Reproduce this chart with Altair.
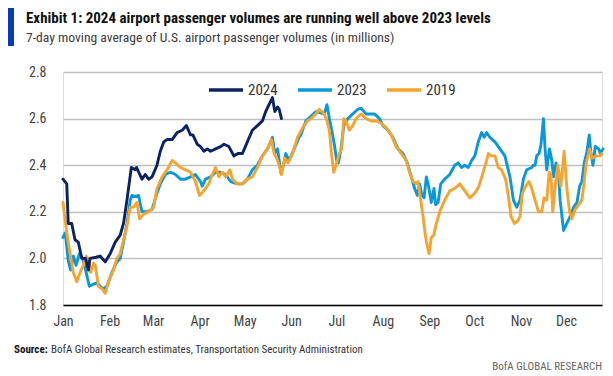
import altair as alt
import pandas as pd

# ---------------- data (day of year, value in millions) ----------------
days_2024 = [0, 2.5, 3.5, 5.8, 8.0, 10.2, 12.5, 15.0, 16.9, 18.0, 22.0, 24.7, 28.1, 31.4, 34.8,
             38.1, 40.3, 42.6, 45.5, 48.1, 49.0, 52.6, 54.8, 57.0, 59.3, 62.6, 64.8, 67.1, 69.3,
             72.7, 76.0, 79.4, 82.2, 84.9, 86.5, 89.4, 91.6, 93.8, 96.1, 98.3, 101.6, 105.0,
             107.2, 110.5, 113.8, 116.5, 119.5, 122.8, 126.1, 129.5, 132.8, 135.0, 137.2, 139.5,
             141.1, 142.9, 144.0, 145.5]
vals_2024 = [2.34, 2.32, 2.15, 2.15, 2.08, 2.07, 2.00, 2.00, 1.95, 2.00, 2.005, 2.01, 1.985, 2.02,
             2.07, 2.10, 2.15, 2.25, 2.39, 2.38, 2.39, 2.34, 2.36, 2.34, 2.35, 2.40, 2.46, 2.50,
             2.51, 2.51, 2.54, 2.55, 2.57, 2.53, 2.53, 2.49, 2.48, 2.46, 2.47, 2.46, 2.47, 2.48,
             2.49, 2.48, 2.44, 2.45, 2.45, 2.50, 2.55, 2.57, 2.59, 2.63, 2.66, 2.69, 2.63, 2.65,
             2.64, 2.60]

days_2023 = [0, 1.5, 3.5, 5.1, 6.9, 8.7, 10.9, 13.2, 15.4, 17.6, 20.3, 22.5, 24.7, 26.9, 29.2,
             32.6, 35.4, 38.1, 40.3, 42.6, 44.8, 45.9, 48.1, 50.3, 52.6, 56.0, 59.3, 62.6, 64.8,
             68.2, 71.5, 74.9, 78.2, 81.6, 84.9, 88.2, 91.6, 92.7, 94.9, 98.3, 101.6, 105.0,
             108.3, 111.6, 116.1, 119.5, 122.8, 126.1, 129.5, 132.8, 136.2, 139.5, 141.1, 142.9,
             145.1, 146.9, 148.4, 150.6, 154.0, 157.3, 158.4, 160.6, 161.8, 165.1, 168.5, 171.5,
             174.0, 175.8, 177.4, 179.0, 180.7, 182.3, 183.4, 185.2, 187.0, 189.7, 193.0, 196.3,
             198.5, 201.9, 205.2, 207.4, 210.8, 213.1, 216.4, 219.7, 223.1, 226.4, 229.3, 232.0,
             234.2, 236.0, 237.5, 239.1, 240.5, 242.0, 243.5, 245.3, 247.1, 248.2, 249.8, 251.6,
             254.2, 257.6, 260.9, 263.2, 265.4, 267.6, 269.9, 272.1, 274.3, 276.6, 278.8, 280.6,
             282.1, 284.3, 287.7, 291.0, 294.3, 297.7, 300.0, 302.2, 304.4, 306.6, 308.8, 312.2,
             313.3, 314.4, 315.5, 317.1, 318.4, 320.0, 321.1, 322.2, 324.0, 325.6, 326.7, 328.4,
             330.0, 331.1, 333.4, 335.6, 337.8, 340.1, 342.3, 344.1, 345.6, 347.2, 349.0, 350.5,
             351.5, 353.0, 354.5, 356.8, 357.9, 359.7]
vals_2023 = [2.09, 2.11, 1.99, 1.95, 2.01, 1.97, 2.02, 2.00, 1.94, 1.88, 1.89, 1.895, 1.88, 1.87,
             1.88, 1.94, 1.98, 2.00, 2.07, 2.15, 2.25, 2.27, 2.265, 2.27, 2.20, 2.20, 2.21, 2.28,
             2.32, 2.36, 2.37, 2.36, 2.34, 2.34, 2.35, 2.36, 2.33, 2.31, 2.34, 2.35, 2.37, 2.37,
             2.36, 2.33, 2.32, 2.32, 2.34, 2.38, 2.40, 2.44, 2.47, 2.52, 2.45, 2.47, 2.37, 2.40,
             2.45, 2.42, 2.47, 2.52, 2.53, 2.57, 2.59, 2.61, 2.63, 2.625, 2.62, 2.66, 2.60, 2.55,
             2.49, 2.42, 2.41, 2.47, 2.57, 2.60, 2.62, 2.64, 2.645, 2.62, 2.62, 2.62, 2.60, 2.57,
             2.55, 2.52, 2.47, 2.45, 2.41, 2.35, 2.30, 2.27, 2.32, 2.27, 2.26, 2.35, 2.31, 2.24,
             2.30, 2.23, 2.24, 2.32, 2.34, 2.36, 2.40, 2.41, 2.39, 2.40, 2.39, 2.42, 2.44, 2.50,
             2.54, 2.52, 2.54, 2.52, 2.50, 2.47, 2.44, 2.35, 2.25, 2.22, 2.25, 2.34, 2.38, 2.39,
             2.40, 2.40, 2.44, 2.45, 2.49, 2.60, 2.47, 2.38, 2.47, 2.42, 2.35, 2.41, 2.37, 2.25,
             2.12, 2.15, 2.18, 2.22, 2.24, 2.31, 2.33, 2.41, 2.46, 2.53, 2.46, 2.40, 2.48, 2.47,
             2.45, 2.47]

days_2019 = [0, 2.5, 4.7, 6.9, 9.2, 11.4, 13.6, 15.4, 16.5, 18.5, 20.3, 21.5, 23.6, 25.9, 28.1,
             30.3, 33.6, 35.9, 38.1, 40.3, 42.6, 44.8, 47.0, 49.3, 51.0, 53.7, 57.0, 60.4, 62.6,
             66.0, 69.3, 72.7, 74.9, 78.2, 81.6, 84.9, 88.2, 90.9, 93.8, 97.1, 99.4, 101.6, 103.8,
             106.1, 108.3, 111.2, 112.8, 116.1, 119.5, 122.8, 126.1, 129.5, 132.8, 136.2, 138.8,
             140.6, 142.4, 143.9, 145.5, 147.7, 149.9, 152.9, 156.2, 159.6, 162.9, 165.1, 168.5,
             170.7, 174.0, 175.8, 177.4, 179.0, 180.3, 181.8, 184.0, 185.6, 187.0, 188.5, 190.7,
             193.0, 195.2, 198.5, 201.9, 205.2, 208.6, 211.9, 215.3, 218.6, 221.9, 225.3, 228.6,
             230.8, 233.1, 235.3, 236.5, 238.0, 239.8, 241.3, 242.7, 243.8, 245.3, 246.9, 248.7,
             250.9, 254.2, 257.6, 260.9, 264.3, 267.6, 270.9, 274.3, 277.0, 279.9, 282.1, 283.3,
             285.4, 287.7, 289.9, 292.1, 294.8, 296.6, 298.4, 300.6, 302.8, 304.4, 306.0, 308.2,
             310.4, 312.2, 314.4, 316.7, 318.9, 320.4, 322.2, 323.8, 325.0, 326.2, 327.8, 329.6,
             331.6, 333.8, 335.6, 337.4, 338.9, 341.1, 343.4, 345.6, 347.0, 348.5, 350.8, 352.3,
             355.6, 357.5, 359.0]
vals_2019 = [2.24, 2.11, 2.02, 1.94, 1.90, 1.94, 1.97, 2.01, 2.00, 1.94, 1.98, 1.97, 1.88, 1.87,
             1.85, 1.90, 1.95, 2.00, 2.02, 2.08, 2.14, 2.22, 2.22, 2.24, 2.17, 2.19, 2.20, 2.22,
             2.30, 2.35, 2.38, 2.42, 2.41, 2.39, 2.38, 2.37, 2.33, 2.27, 2.29, 2.32, 2.36, 2.39,
             2.35, 2.37, 2.35, 2.38, 2.34, 2.32, 2.32, 2.34, 2.35, 2.39, 2.44, 2.47, 2.51, 2.45,
             2.43, 2.40, 2.36, 2.43, 2.41, 2.45, 2.52, 2.56, 2.59, 2.60, 2.62, 2.64, 2.62, 2.59,
             2.55, 2.44, 2.37, 2.40, 2.45, 2.47, 2.60, 2.59, 2.55, 2.57, 2.60, 2.62, 2.60, 2.59,
             2.59, 2.58, 2.56, 2.53, 2.48, 2.45, 2.42, 2.37, 2.33, 2.32, 2.33, 2.26, 2.18, 2.10,
             2.05, 2.02, 2.09, 2.10, 2.15, 2.20, 2.25, 2.29, 2.30, 2.32, 2.29, 2.26, 2.28, 2.31,
             2.37, 2.42, 2.45, 2.44, 2.44, 2.39, 2.38, 2.34, 2.27, 2.18, 2.15, 2.16, 2.18, 2.28,
             2.31, 2.33, 2.30, 2.25, 2.20, 2.20, 2.26, 2.25, 2.37, 2.36, 2.20, 2.31, 2.40, 2.31,
             2.46, 2.30, 2.20, 2.17, 2.21, 2.23, 2.25, 2.32, 2.41, 2.47, 2.43, 2.44, 2.44, 2.45]

series_names = ["2024", "2023", "2019"]
series_colors = ["#0b2265", "#0b98d8", "#f6a430"]
month_names = ["Jan", "Feb", "Mar", "Apr", "May", "Jun", "Jul", "Aug", "Sep", "Oct", "Nov", "Dec"]
month_starts = [0, 31, 60, 91, 121, 152, 182, 213, 244, 274, 305, 335]
y_ticks = [1.8, 2.0, 2.2, 2.4, 2.6, 2.8]

title_text = "Exhibit 1: 2024 airport passenger volumes are running well above 2023 levels"
subtitle_text = "7-day moving average of U.S. airport passenger volumes (in millions)"
source_bold = "Source:"
source_text = "BofA Global Research estimates, Transportation Security Administration"
brand_text = "BofA GLOBAL RESEARCH"

# ---------------- build ----------------
df = pd.concat([
    pd.DataFrame({"day": days_2024, "value": vals_2024, "series": "2024"}),
    pd.DataFrame({"day": days_2023, "value": vals_2023, "series": "2023"}),
    pd.DataFrame({"day": days_2019, "value": vals_2019, "series": "2019"}),
])

FONT = "Liberation Sans Narrow, Roboto Condensed, Arial Narrow, Liberation Sans, sans-serif"

label_expr = ("[" + ",".join(f"'{m}'" for m in month_names) + "][indexof(["
              + ",".join(str(s) for s in month_starts) + "], datum.value)]")

x_enc = alt.X("day:Q", scale=alt.Scale(domain=[0, 359], nice=False, zero=False),
              axis=alt.Axis(values=month_starts, labelExpr=label_expr, grid=False, ticks=False,
                            domain=True, domainColor="#000000", domainWidth=1.6,
                            labelPadding=9, labelFontSize=14, labelColor="#444444",
                            labelFont=FONT, labelFlush=False, title=None))
y_enc = alt.Y("value:Q", scale=alt.Scale(domain=[1.8, 2.8], nice=False, zero=False),
              axis=alt.Axis(values=y_ticks, format=".1f", grid=True, gridColor="#c0c0c0",
                            gridWidth=1.5, domain=False, ticks=False, labelPadding=17,
                            labelFontSize=14, labelColor="#444444", labelFont=FONT, title=None))
color_enc = alt.Color("series:N",
                      scale=alt.Scale(domain=series_names, range=series_colors),
                      legend=alt.Legend(orient="none", legendX=144, legendY=-1,
                                        direction="horizontal", symbolType="stroke",
                                        symbolSize=1156, symbolStrokeWidth=3.5,
                                        labelFontSize=15, labelFont=FONT, labelColor="#333333",
                                        labelOffset=3, columnPadding=13, title=None))

base = alt.Chart(df)
lines = []
for name in ["2023", "2019", "2024"]:
    lines.append(base.transform_filter(alt.datum.series == name)
                 .mark_line(strokeWidth=2.9, strokeJoin="round", strokeCap="round")
                 .encode(x=x_enc, y=y_enc, color=color_enc))

def text_layer(txt, x, y, size, weight="normal", color="#222222", align="left"):
    return alt.Chart(pd.DataFrame({"t": [txt]})).mark_text(
        align=align, baseline="alphabetic", fontSize=size, fontWeight=weight,
        font=FONT, color=color).encode(text="t:N", x=alt.value(x), y=alt.value(y))

bar = alt.Chart(pd.DataFrame({"a": [0]})).mark_rule(color="#0a3cb4", strokeWidth=6).encode(
    x=alt.value(-52), y=alt.value(-64), y2=alt.value(-26))

title = text_layer(title_text, -37, -49, 15, "bold", "#111111")
subtitle = text_layer(subtitle_text, -37, -30, 13.6, "normal", "#3a3a3a")
src_b = text_layer(source_bold, -49, 281, 11, "bold", "#111111")
src_t = text_layer(source_text, -12, 281, 11, "normal", "#333333")
brand = text_layer(brand_text, 539, 298, 11, "normal", "#666666", align="right")

chart = alt.layer(*lines, bar, title, subtitle, src_b, src_t, brand).properties(
    width=539, height=233,
    padding={"left": 63, "top": 72, "right": 11, "bottom": 71},
    autosize=alt.AutoSizeParams(type="none"),
).configure_view(stroke=None).configure(background="white")

chart.save("out.html", embed_options={"renderer": "svg", "actions": False})
